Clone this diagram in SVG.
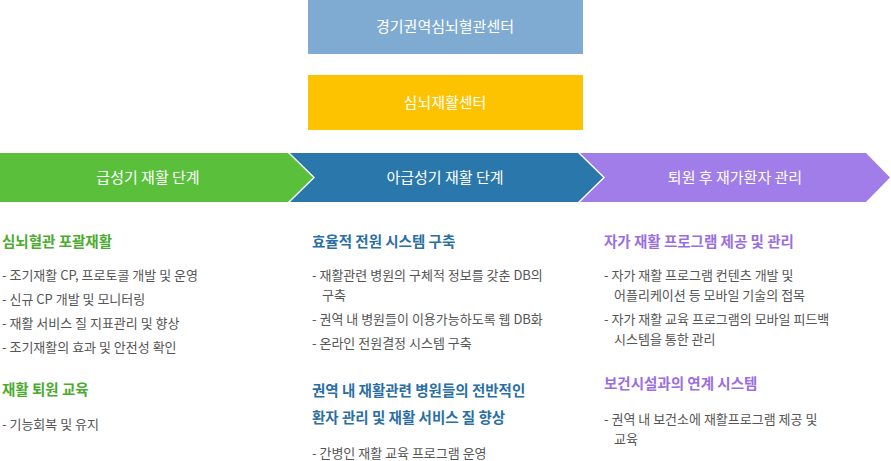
<svg xmlns="http://www.w3.org/2000/svg" width="891" height="461" viewBox="0 0 891 461">
<style>
text{font-family:"Noto Sans CJK KR","Noto Sans",sans-serif}
.w{fill:#fff;font-size:15px;text-anchor:middle}
.h{font-size:14.5px;font-weight:bold}
.t{font-size:13px;fill:#555}
.g{fill:#4aab2e}.b{fill:#2a6fa3}.p{fill:#9a6ee0}
</style>
<rect width="891" height="461" fill="#fff"/>
<g id="center1"><rect x="308" y="0" width="275" height="54" fill="#7fabd3"/><text class="w" x="445" y="32">경기권역심뇌혈관센터</text></g>
<g id="center2"><rect x="308" y="75" width="275" height="55" fill="#fdc300"/><text class="w" x="445" y="108">심뇌재활센터</text></g>
<g id="stage1"><polygon points="0,153 288,153 313,177.5 288,202 0,202" fill="#5ac03c"/><text class="w" x="148" y="183">급성기 재활 단계</text></g>
<g id="stage2"><polygon points="290,153 578,153 603,177.5 578,202 290,202 315,177.5" fill="#2a78ab"/><text class="w" x="445" y="183">아급성기 재활 단계</text></g>
<g id="stage3"><polygon points="580,153 866,153 890,177.5 866,202 580,202 605,177.5" fill="#a07de8"/><text class="w" x="735" y="183">퇴원 후 재가환자 관리</text></g>
<g id="col1">
<text class="h g" x="2" y="247">심뇌혈관 포괄재활</text>
<text class="t" x="2" y="280">- 조기재활 CP, 프로토콜 개발 및 운영</text>
<text class="t" x="2" y="304">- 신규 CP 개발 및 모니터링</text>
<text class="t" x="2" y="328">- 재활 서비스 질 지표관리 및 향상</text>
<text class="t" x="2" y="352">- 조기재활의 효과 및 안전성 확인</text>
<text class="h g" x="2" y="395">재활 퇴원 교육</text>
<text class="t" x="2" y="429">- 기능회복 및 유지</text>
</g>
<g id="col2">
<text class="h b" x="312" y="247">효율적 전원 시스템 구축</text>
<text class="t" x="312" y="280">- 재활관련 병원의 구체적 정보를 갖춘 DB의</text>
<text class="t" x="322" y="300">구축</text>
<text class="t" x="312" y="324">- 권역 내 병원들이 이용가능하도록 웹 DB화</text>
<text class="t" x="312" y="348">- 온라인 전원결정 시스템 구축</text>
<text class="h b" x="312" y="396">권역 내 재활관련 병원들의 전반적인</text>
<text class="h b" x="312" y="423">환자 관리 및 재활 서비스 질 향상</text>
<text class="t" x="312" y="458">- 간병인 재활 교육 프로그램 운영</text>
</g>
<g id="col3">
<text class="h p" x="604" y="247">자가 재활 프로그램 제공 및 관리</text>
<text class="t" x="604" y="280">- 자가 재활 프로그램 컨텐츠 개발 및</text>
<text class="t" x="614" y="300">어플리케이션 등 모바일 기술의 접목</text>
<text class="t" x="604" y="324">- 자가 재활 교육 프로그램의 모바일 피드백</text>
<text class="t" x="614" y="344">시스템을 통한 관리</text>
<text class="h p" x="604" y="389">보건시설과의 연계 시스템</text>
<text class="t" x="604" y="424">- 권역 내 보건소에 재활프로그램 제공 및</text>
<text class="t" x="614" y="444">교육</text>
</g>
<g id="connectors"/>
</svg>
